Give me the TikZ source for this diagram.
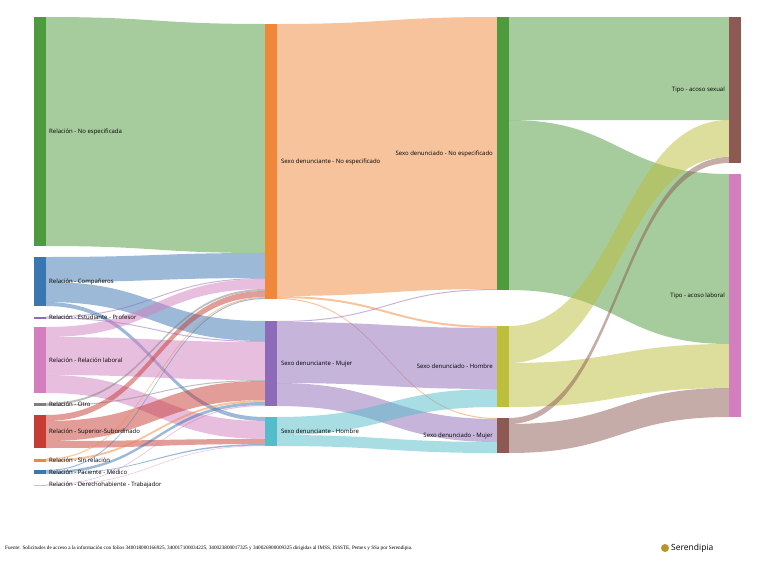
\documentclass[tikz,border=0pt]{standalone}
\usepackage{fontspec}
\setmainfont{Liberation Serif}
\setsansfont{Open Sans}
\usepackage{tikz}
\definecolor{cGreen}{HTML}{4E9A3E}
\definecolor{cOrange}{HTML}{F0883A}
\definecolor{cPurple}{HTML}{8E6BB8}
\definecolor{cTeal}{HTML}{55BCCB}
\definecolor{cOlive}{HTML}{BDBE3B}
\definecolor{cBrown}{HTML}{8C5A52}
\definecolor{cPink}{HTML}{D37EBF}
\definecolor{cRed}{HTML}{C63C35}
\definecolor{cBlue}{HTML}{3A76B0}
\definecolor{cGray}{HTML}{7F7F7F}
\definecolor{cGold}{HTML}{B8962E}

% ribbon: x1, top1, bottom1, x2, top2, bottom2, colour
\newcommand{\ribbon}[7]{%
  \pgfmathsetmacro{\xm}{(#1+#4)/2}
  \fill[#7, fill opacity=0.5] (#1,#2) .. controls (\xm,#2) and (\xm,#5) .. (#4,#5)
    -- (#4,#6) .. controls (\xm,#6) and (\xm,#3) .. (#1,#3) -- cycle;}
% bar: name, x, top, bottom, colour
\newcommand{\sbar}[5]{%
  \fill[#5] (#2,#3) rectangle ++(12,#4-#3);
  \coordinate (#1) at (#2+6,{(#3+#4)/2});}

\begin{document}
\begin{tikzpicture}[x=1pt,y=-1pt,
    lbl/.style={font=\sffamily\fontsize{6}{7}\selectfont, inner sep=1pt},
    src/.style={lbl, anchor=west},
    mid/.style={lbl, anchor=west},
    dst/.style={lbl, anchor=east}]
    \useasboundingbox[fill=white] (0,0) rectangle (771,573);

    % relacion -> sexo denunciante
    \ribbon{46}{17}{246}{265}{24}{253}{cGreen}
    \ribbon{46}{257}{282}{265}{253}{278}{cBlue}
    \ribbon{46}{282}{302}{265}{321}{341}{cBlue}
    \ribbon{46}{302}{306}{265}{417}{421}{cBlue}
    \ribbon{46}{316.5}{317.5}{265}{278}{279}{cPurple}
    \ribbon{46}{317.5}{318.5}{265}{341}{342}{cPurple}
    \ribbon{46}{327}{337}{265}{279}{289}{cPink}
    \ribbon{46}{337}{375}{265}{342}{380}{cPink}
    \ribbon{46}{375}{393}{265}{421}{439}{cPink}
    \ribbon{46}{403}{405}{265}{289}{291}{cGray}
    \ribbon{46}{405}{406}{265}{380}{381}{cGray}
    \ribbon{46}{415}{421}{265}{291}{297}{cRed}
    \ribbon{46}{421}{441}{265}{381}{400}{cRed}
    \ribbon{46}{441}{448}{265}{439}{444}{cRed}
    \ribbon{46}{458.5}{459.5}{265}{297}{298}{cOrange}
    \ribbon{46}{459.5}{461.5}{265}{400}{402}{cOrange}
    \ribbon{46}{470}{471}{265}{298}{299}{cBlue}
    \ribbon{46}{471}{473.5}{265}{402}{405}{cBlue}
    \ribbon{46}{473.5}{474}{265}{444}{445.5}{cBlue}
    \ribbon{46}{484.5}{485}{265}{405}{406}{cPink}
    \ribbon{46}{485}{485.5}{265}{445.5}{446}{cPink}

    % sexo denunciante -> sexo denunciado
    \ribbon{277}{24}{296}{497}{17}{289}{cOrange}
    \ribbon{277}{296}{298}{497}{326}{328}{cOrange}
    \ribbon{277}{298}{299}{497}{418}{419}{cOrange}
    \ribbon{277}{321}{322}{497}{289}{290}{cPurple}
    \ribbon{277}{322}{383}{497}{328}{389}{cPurple}
    \ribbon{277}{383}{406}{497}{419}{442}{cPurple}
    \ribbon{277}{417}{435}{497}{389}{407}{cTeal}
    \ribbon{277}{435}{446}{497}{442}{453}{cTeal}

    % sexo denunciado -> tipo
    \ribbon{509}{17}{120}{729}{17}{120}{cGreen}
    \ribbon{509}{120}{290}{729}{174}{344}{cGreen}
    \ribbon{509}{326}{363}{729}{120}{157}{cOlive}
    \ribbon{509}{363}{407}{729}{344}{388}{cOlive}
    \ribbon{509}{418}{424}{729}{157}{163}{cBrown}
    \ribbon{509}{424}{453}{729}{388}{417}{cBrown}

    % barras
    \sbar{noesp}{34}{17}{246}{cGreen}
    \sbar{comp}{34}{257}{306}{cBlue}
    \sbar{estu}{34}{316.5}{318.5}{cPurple}
    \sbar{labo}{34}{327}{393}{cPink}
    \sbar{otro}{34}{403}{406}{cGray}
    \sbar{supe}{34}{415}{448}{cRed}
    \sbar{sinr}{34}{458.5}{461.5}{cOrange}
    \sbar{paci}{34}{470}{474}{cBlue}
    \sbar{dere}{34}{484.5}{485.5}{cPink!60}
    \sbar{denNo}{265}{24}{299}{cOrange}
    \sbar{denMu}{265}{321}{406}{cPurple}
    \sbar{denHo}{265}{417}{446}{cTeal}
    \sbar{doNo}{497}{17}{290}{cGreen}
    \sbar{doHo}{497}{326}{407}{cOlive}
    \sbar{doMu}{497}{418}{453}{cBrown}
    \sbar{tSex}{729}{17}{163}{cBrown}
    \sbar{tLab}{729}{174}{417}{cPink}

    % etiquetas
    \node[src] at (48,131.5) {Relación - No especificada};
    \node[src] at (48,281.5) {Relación - Compañeros};
    \node[src] at (48,317.5) {Relación - Estudiante - Profesor};
    \node[src] at (48,360) {Relación - Relación laboral};
    \node[src] at (48,404.5) {Relación - Otro};
    \node[src] at (48,431.5) {Relación - Superior-Subordinado};
    \node[src] at (48,460) {Relación - Sin relación};
    \node[src] at (48,472) {Relación - Paciente - Médico};
    \node[src] at (48,485) {Relación - Derechohabiente - Trabajador};
    \node[mid] at (280,161.5) {Sexo denunciante - No especificado};
    \node[mid] at (280,363.5) {Sexo denunciante - Mujer};
    \node[mid] at (280,431.5) {Sexo denunciante - Hombre};
    \node[dst] at (494,153.5) {Sexo denunciado - No especificado};
    \node[dst] at (494,366.5) {Sexo denunciado - Hombre};
    \node[dst] at (494,435.5) {Sexo denunciado - Mujer};
    \node[dst] at (726,90) {Tipo - acoso sexual};
    \node[dst] at (726,295.5) {Tipo - acoso laboral};

    % pie
    \node[anchor=west, font=\fontsize{5.2}{6}\selectfont, inner sep=0pt] (fuente) at (5,548)
      {Fuente: Solicitudes de acceso a la información con folios 340018000166925, 340017100034225, 340023800017325 y 340026900009325 dirigidas al IMSS, ISSSTE, Pemex y SSa por Serendipia.};
    \fill[cGold] (665,548) circle (4);
    \node[anchor=west, font=\sffamily\fontsize{8.5}{9}\selectfont, inner sep=0pt] (logo) at (671,548) {Serendipia};
\end{tikzpicture}
\end{document}
